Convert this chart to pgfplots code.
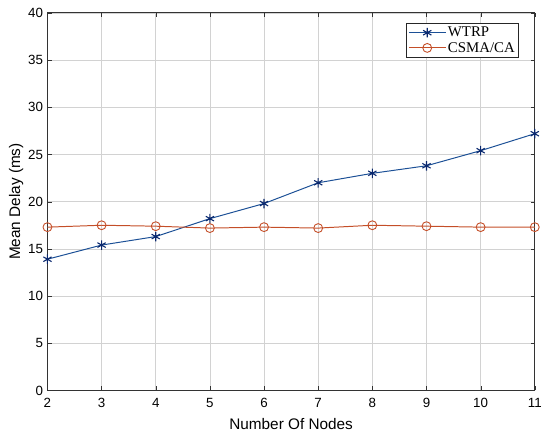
\documentclass[border=0pt]{standalone}
\usepackage{pgfplots}
\pgfplotsset{compat=1.18}
\usepackage{fontspec}
\setmainfont{Liberation Sans}
\newfontfamily\seriffont{Liberation Serif}
\definecolor{wblue}{RGB}{28,80,150}
\definecolor{wmark}{RGB}{10,40,110}
\definecolor{corange}{RGB}{196,78,40}
\begin{document}
\begin{tikzpicture}
\begin{axis}[
  scale only axis, width=493pt, height=382pt,
  xmin=2, xmax=11, ymin=0, ymax=40,
  xtick={2,...,11}, ytick={0,5,...,40},
  grid=major, grid style={gray!35, line width=0.6pt},
  axis line style={line width=1.2pt, black!80},
  tick style={black!80},
  tick align=inside,
  /pgf/number format/assume math mode=true,
  ticklabel style={font=\fontsize{13.5}{15}\selectfont},
  xticklabel style={yshift=-4pt},
  yticklabel style={xshift=-1pt},
  xlabel={Number Of Nodes}, ylabel={Mean Delay (ms)},
  label style={font=\fontsize{15.5}{17}\selectfont},
  xlabel style={yshift=-4pt}, ylabel style={yshift=-2pt},
  legend style={at={(0.968,0.974)}, anchor=north east, draw=black!85, line width=1pt,
    font=\seriffont\fontsize{15}{15}\selectfont, inner sep=2pt, row sep=0pt,
    legend cell align=left},
  legend image code/.code={
    \draw[mark repeat=2,mark phase=2] plot coordinates {(0cm,0cm) (0.65cm,0cm) (1.3cm,0cm)};},
]
\addplot[wblue, line width=1pt, mark=asterisk, mark size=4.8pt, mark options={wmark, line width=1.1pt}] coordinates {
(2,13.9)(3,15.4)(4,16.3)(5,18.2)(6,19.8)(7,22.0)(8,23.0)(9,23.8)(10,25.4)(11,27.2)};
\addlegendentry{WTRP}
\addplot[corange, line width=1pt, mark=o, mark size=4.5pt, mark options={line width=0.9pt}] coordinates {
(2,17.3)(3,17.5)(4,17.4)(5,17.2)(6,17.3)(7,17.2)(8,17.5)(9,17.4)(10,17.3)(11,17.3)};
\addlegendentry{CSMA/CA}
\end{axis}
\path (current axis.south west) ++(-48pt,-50pt) coordinate (bl);
\path (current axis.north east) ++(4pt,13pt) coordinate (tr);
\path (bl) rectangle (tr);
\end{tikzpicture}
\end{document}
